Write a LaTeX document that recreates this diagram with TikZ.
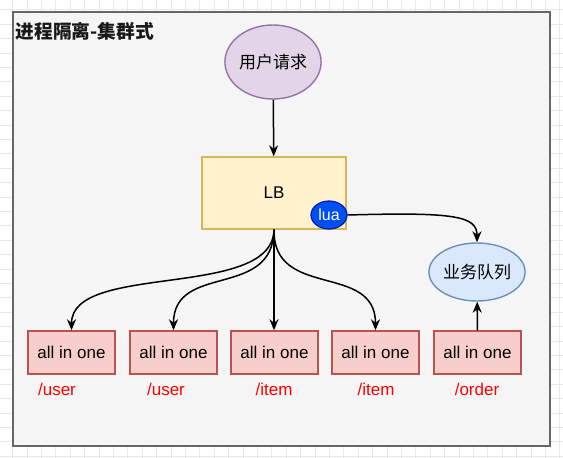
\documentclass[tikz,border=0pt]{standalone}
\usepackage{fontspec}
\setmainfont{Liberation Sans}
\newfontfamily\cjk{Noto Sans CJK SC}
\usetikzlibrary{arrows.meta}
\usetikzlibrary{shapes.geometric}
\definecolor{frame-gray}{HTML}{666666}
\definecolor{frame-fill}{HTML}{F5F5F5}
\definecolor{grid-gray}{HTML}{E8E8E8}
\definecolor{red-fill}{HTML}{F8CECC}
\definecolor{red-line}{HTML}{B85450}
\definecolor{purple-fill}{HTML}{E1D5E7}
\definecolor{purple-line}{HTML}{9673A6}
\definecolor{yellow-fill}{HTML}{FFF2CC}
\definecolor{yellow-line}{HTML}{D6B656}
\definecolor{blue-fill}{HTML}{0050EF}
\definecolor{blue-line}{HTML}{001DBC}
\definecolor{sky-fill}{HTML}{DAE8FC}
\definecolor{sky-line}{HTML}{6C8EBF}
\definecolor{path-red}{HTML}{FF0000}

\tikzset{
    gridline/.style={draw=grid-gray, line width=0.8pt},
    group/.style={draw=frame-gray, fill=frame-fill, line width=1.4pt, inner sep=0pt},
    txt/.style={font=\fontsize{17}{20}\selectfont, text=black},
    aio/.style={txt, draw=red-line, fill=red-fill, line width=1.4pt, minimum width=87pt, minimum height=43pt, inner sep=0pt},
    path-label/.style={font=\fontsize{17}{20}\selectfont, text=path-red},
    arr/.style={-{Stealth[length=11pt, width=9pt, inset=3.5pt]}, line width=1.5pt, black}
}

\begin{document}
\begin{tikzpicture}[x=1pt, y=-1pt]
    \useasboundingbox (0,0) rectangle (563,458);
    \foreach \gx in {-1.8,12.6,...,563} \draw[gridline] (\gx,0) -- (\gx,458);
    \foreach \gy in {-4.6,9.8,...,458} \draw[gridline] (0,\gy) -- (563,\gy);

    \node[group, minimum width=537pt, minimum height=434pt] (group) at (281.5,229) {};
    \node[anchor=west, inner sep=0pt, font=\cjk\bfseries\fontsize{18.7}{22}\selectfont, text=black!90] (title) at (15.5,31) {进程隔离-集群式};

    \node[txt, ellipse, draw=purple-line, fill=purple-fill, line width=1.4pt, minimum width=86pt, minimum height=74pt, inner sep=0pt] (req) at (273,62) {\cjk 用户请求};
    \node[txt, draw=yellow-line, fill=yellow-fill, line width=1.4pt, minimum width=144pt, minimum height=72pt] (lb) at (274,193) {LB};
    \node[ellipse, draw=blue-line, fill=blue-fill, line width=1.2pt, minimum width=36pt, minimum height=28pt, inner sep=0pt, text=white, font=\fontsize{16}{18}\selectfont] (lua) at (329,215) {lua};
    \node[txt, ellipse, draw=sky-line, fill=sky-fill, line width=1.4pt, minimum width=94pt, minimum height=58pt, inner sep=0pt] (queue) at (477,272) {\cjk 业务队列};

    \node[aio] (b1) at (71.5,352.5) {all in one};
    \node[aio] (b2) at (173.5,352.5) {all in one};
    \node[aio] (b3) at (274.5,352.5) {all in one};
    \node[aio] (b4) at (375.5,352.5) {all in one};
    \node[aio] (b5) at (477.5,352.5) {all in one};

    \node[path-label] (p1) at (57,389) {/user};
    \node[path-label] (p2) at (166,389) {/user};
    \node[path-label] (p3) at (274,389) {/item};
    \node[path-label] (p4) at (376,389) {/item};
    \node[path-label] (p5) at (477,389) {/order};

    \draw[arr] (req) -- (lb);
    \draw[arr] (lb.south) .. controls (273,300) and (71.5,262) .. (b1.north);
    \draw[arr] (lb.south) .. controls (273,300) and (173.5,262) .. (b2.north);
    \draw[arr] (lb.south) -- (lb.south |- b3.north);
    \draw[arr] (lb.south) .. controls (273,300) and (375.5,262) .. (b4.north);
    \draw[arr] (lua.east) .. controls (455,212) and (477,216) .. (queue.north);
    \draw[arr] (b5) -- (queue);
\end{tikzpicture}
\end{document}
